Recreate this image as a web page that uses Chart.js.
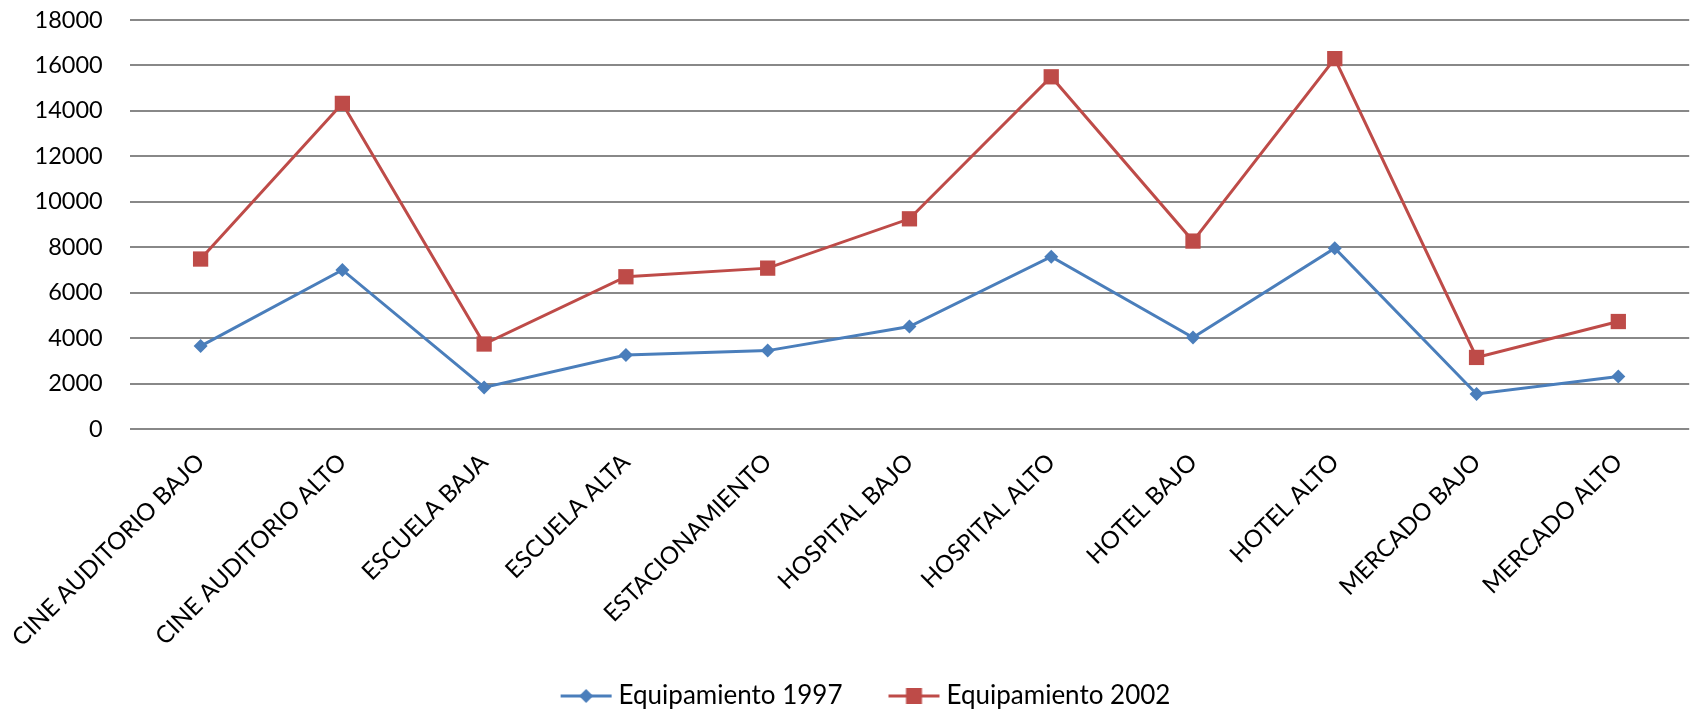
<!DOCTYPE html>
<html>
<head>
<meta charset="utf-8">
<script src="https://cdn.jsdelivr.net/npm/chart.js@4.4.1/dist/chart.umd.min.js"></script>
<style>
  html, body { margin: 0; padding: 0; background: #fff; }
  #wrap { width: 1700px; height: 713px; }
</style>
</head>
<body>
<div id="wrap"><canvas id="chart" width="1700" height="713"></canvas></div>
<script>
const categories = [
  "CINE AUDITORIO BAJO", "CINE AUDITORIO ALTO", "ESCUELA BAJA", "ESCUELA ALTA",
  "ESTACIONAMIENTO", "HOSPITAL BAJO", "HOSPITAL ALTO", "HOTEL BAJO",
  "HOTEL ALTO", "MERCADO BAJO", "MERCADO ALTO"
];
const equip1997 = [3650, 7000, 1830, 3260, 3450, 4510, 7580, 4030, 7960, 1540, 2310];
const equip2002 = [7480, 14330, 3740, 6700, 7080, 9250, 15500, 8270, 16300, 3150, 4730];
const seriesNames = ["Equipamiento 1997", "Equipamiento 2002"];
const yTicks = [0, 2000, 4000, 6000, 8000, 10000, 12000, 14000, 16000, 18000];

const BLUE = "#4a7ebb";
const RED = "#be4b48";
const FONT = "Lato, 'Liberation Sans', sans-serif";

// legend swatch: a line with its marker, set close to the label text
function legendSwatch(color, shape) {
  const c = document.createElement("canvas");
  c.width = 90;
  c.height = 18;
  const g = c.getContext("2d");
  g.strokeStyle = color;
  g.lineWidth = 3;
  g.beginPath();
  g.moveTo(38, 9);
  g.lineTo(89, 9);
  g.stroke();
  g.fillStyle = color;
  const cx = 63.5;
  if (shape === "diamond") {
    g.beginPath();
    g.moveTo(cx, 2);
    g.lineTo(cx + 7, 9);
    g.lineTo(cx, 16);
    g.lineTo(cx - 7, 9);
    g.closePath();
    g.fill();
  } else {
    g.fillRect(cx - 8, 1, 16, 16);
  }
  return c;
}

const swatches = [legendSwatch(BLUE, "diamond"), legendSwatch(RED, "square")];

new Chart(document.getElementById("chart"), {
  type: "line",
  data: {
    labels: categories,
    datasets: [
      {
        label: seriesNames[0],
        data: equip1997,
        borderColor: BLUE,
        backgroundColor: BLUE,
        borderWidth: 3,
        pointStyle: "rectRot",
        pointRadius: 7,
        pointBorderWidth: 0,
        tension: 0,
      },
      {
        label: seriesNames[1],
        data: equip2002,
        borderColor: RED,
        backgroundColor: RED,
        borderWidth: 3,
        pointStyle: "rect",
        pointRadius: 10.8,
        pointBorderWidth: 0,
        tension: 0,
      },
    ],
  },
  options: {
    responsive: false,
    animation: false,
    layout: {
      padding: { top: 20, right: 0, left: 0, bottom: -6 },
    },
    plugins: {
      tooltip: { enabled: false },
      legend: {
        position: "bottom",
        labels: {
          color: "#000",
          font: { family: FONT, size: 26 },
          usePointStyle: true,
          pointStyleWidth: 76,
          padding: 15,
          generateLabels: (chart) =>
            chart.data.datasets.map((ds, i) => ({
              text: ds.label,
              pointStyle: swatches[i],
              fillStyle: ds.borderColor,
              strokeStyle: ds.borderColor,
              fontColor: "#000",
              lineWidth: 0,
              datasetIndex: i,
              hidden: false,
            })),
        },
      },
    },
    scales: {
      x: {
        offset: true,
        afterFit: (scale) => {
          scale.height = 239;
        },
        grid: { display: false },
        border: { display: false },
        ticks: {
          color: "#000",
          font: { family: FONT, size: 24 },
          minRotation: 45,
          maxRotation: 45,
          autoSkip: false,
          padding: 11,
        },
      },
      y: {
        min: 0,
        max: 18000,
        afterBuildTicks: (scale) => {
          scale.ticks = yTicks.map((v) => ({ value: v }));
        },
        afterFit: (scale) => {
          scale.width = 124;
          // the label gap should not push the plot area down
          scale.paddingTop = 14;
          scale.paddingBottom = 14;
        },
        grid: {
          color: "#888888",
          lineWidth: 2,
          drawTicks: false,
        },
        border: { display: false },
        ticks: {
          color: "#000",
          font: { family: FONT, size: 23.5 },
          padding: 27,
          callback: (value) => String(value),
        },
      },
    },
  },
});
</script>
</body>
</html>
